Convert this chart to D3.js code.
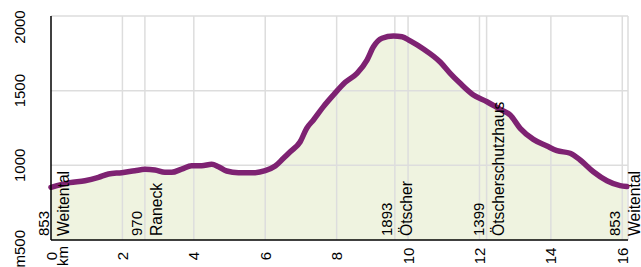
<!DOCTYPE html>
<html>
<head>
<meta charset="utf-8">
<script src="https://cdn.jsdelivr.net/npm/d3@7"></script>
<style>
  html, body { margin: 0; padding: 0; background: #fff; }
  svg { display: block; font-family: "Liberation Sans", Arial, sans-serif; }
</style>
</head>
<body>
<svg id="chart" width="641" height="267"></svg>
<script>
// profile: distance (km) and elevation (m)
const distKm = [0, 0.53, 0.95, 1.33, 1.61, 1.98, 2.35, 2.63, 2.91, 3.19, 3.38, 3.66, 3.94, 4.22, 4.5, 4.69,
  4.92, 5.25, 5.72, 6.0, 6.28, 6.51, 6.7, 6.98, 7.16, 7.35, 7.63, 7.91, 8.24, 8.57, 8.85, 9.03, 9.27,
  9.59, 9.83, 10.06, 10.43, 10.9, 11.18, 11.46, 11.83, 12.21, 12.58, 12.86, 13.14, 13.51, 13.89, 14.17,
  14.54, 14.82, 15.19, 15.57, 15.94, 16.13];
const elevM = [853, 884, 897, 920, 942, 951, 964, 973, 969, 953, 953, 975, 998, 998, 1007, 991,
  962, 951, 951, 964, 995, 1047, 1091, 1158, 1248, 1304, 1393, 1471, 1556, 1616, 1705, 1794, 1851,
  1866, 1861, 1833, 1779, 1692, 1616, 1549, 1471, 1426, 1375, 1337, 1248, 1174, 1129, 1098,
  1081, 1036, 957, 897, 864, 858];

// waypoints
const placeNames = ['Weitental', 'Raneck', 'Ötscher', 'Ötscherschutzhaus', 'Weitental'];
const placeKm = [0, 2.63, 9.63, 12.2, 16.0];
const placeElev = [853, 970, 1893, 1399, 853];

const xTicks = [0, 2, 4, 6, 8, 10, 12, 14, 16];
const yTicks = [500, 1000, 1500, 2000];

const width = 641, height = 267;
const margin = { top: 16, right: 13, bottom: 27, left: 51 };

const svg = d3.select('#chart');

const x = d3.scaleLinear([0, 16.16], [margin.left, width - margin.right]);
const y = d3.scaleLinear([500, 2000], [height - margin.bottom, margin.top]);

const pts = distKm.map((d, i) => [d, elevM[i]]);

// fill under profile
const area = d3.area()
  .x(d => x(d[0]))
  .y0(y(500))
  .y1(d => y(d[1]))
  .curve(d3.curveMonotoneX);

svg.append('path')
  .datum(pts)
  .attr('d', area)
  .attr('fill', '#eff3e0');

// grid
const grid = svg.append('g').attr('stroke', '#dddddd').attr('stroke-width', 1.5);
grid.selectAll('.hg')
  .data(yTicks.slice(1))
  .join('line')
  .attr('x1', x.range()[0]).attr('x2', x.range()[1])
  .attr('y1', d => y(d)).attr('y2', d => y(d));
grid.selectAll('.vg')
  .data(xTicks.slice(1).concat(placeKm.slice(1, -1)))
  .join('line')
  .attr('x1', d => x(d)).attr('x2', d => x(d))
  .attr('y1', y.range()[0]).attr('y2', y.range()[1]);
grid.append('line')
  .attr('x1', x.range()[1]).attr('x2', x.range()[1])
  .attr('y1', y.range()[0]).attr('y2', y.range()[1]);

// profile line
const line = d3.line()
  .x(d => x(d[0]))
  .y(d => y(d[1]))
  .curve(d3.curveMonotoneX);

svg.append('path')
  .datum(pts)
  .attr('d', line)
  .attr('fill', 'none')
  .attr('stroke', '#7e2272')
  .attr('stroke-width', 5.5)
  .attr('stroke-linejoin', 'round')
  .attr('stroke-linecap', 'round');

// axes lines
svg.append('line')
  .attr('x1', x.range()[0]).attr('x2', x.range()[0])
  .attr('y1', y.range()[0]).attr('y2', y.range()[1])
  .attr('stroke', '#000').attr('stroke-width', 1.5);
svg.append('line')
  .attr('x1', x.range()[0]).attr('x2', x.range()[1])
  .attr('y1', y.range()[0]).attr('y2', y.range()[0])
  .attr('stroke', '#000').attr('stroke-width', 1.5);

// y tick labels (rotated)
svg.append('g')
  .selectAll('text')
  .data(yTicks)
  .join('text')
  .attr('font-size', 15)
  .attr('fill', '#000')
  .attr('text-anchor', d => d === 500 ? 'end' : 'middle')
  .attr('transform', d => {
    const ty = d === 500 ? y(d) - 10 : Math.max(y(d), 27);
    return `translate(25,${ty}) rotate(-90)`;
  })
  .text(d => d === 500 ? 'm' + d : d);

// x tick labels (rotated)
const xt = svg.append('g')
  .selectAll('text')
  .data(xTicks)
  .join('text')
  .attr('font-size', 15)
  .attr('fill', '#000')
  .attr('text-anchor', 'middle')
  .attr('transform', d => `translate(${x(d) + 5.5},256) rotate(-90)`)
  .text(d => d);
svg.append('text')
  .attr('font-size', 15)
  .attr('text-anchor', 'middle')
  .attr('transform', `translate(${x(0) + 17},256) rotate(-90)`)
  .text('km');

// waypoint labels
const pl = svg.append('g')
  .selectAll('g')
  .data(placeNames.map((n, i) => ({ name: n, km: placeKm[i], elev: placeElev[i] })))
  .join('g');
pl.append('text')
  .attr('font-size', 15)
  .attr('transform', d => `translate(${x(d.km) - 2.5},236) rotate(-90)`)
  .text(d => d.elev);
pl.append('text')
  .attr('font-size', 15.7)
  .attr('transform', d => `translate(${x(d.km) + 17.5},236) rotate(-90)`)
  .text(d => d.name);
</script>
</body>
</html>
